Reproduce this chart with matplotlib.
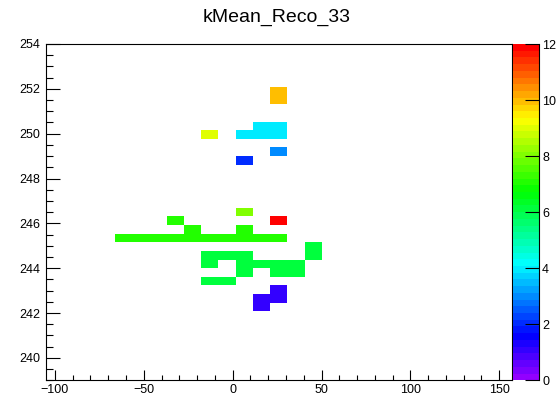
import colorsys
import numpy as np
import matplotlib
matplotlib.use("Agg")
import matplotlib.pyplot as plt
from matplotlib.colors import ListedColormap, Normalize
from matplotlib.ticker import MultipleLocator

plt.rcParams["font.family"] = ["Liberation Sans", "DejaVu Sans"]

title = "kMean_Reco_33"

# histogram binning
x_lo, x_hi, n_x = -105.0, 157.0, 27
y_lo, y_hi, n_y = 239.0, 254.0, 39
z_min, z_max = 0, 12

# filled bins: column index, row index, bin content
cell_ix = [13, 13,
           12, 13,
           9, 11, 12, 13,
           13,
           11,
           11,
           7, 13,
           8, 11,
           4, 5, 6, 7, 8, 9, 10, 11, 12, 13,
           15,
           9, 10, 11, 15,
           9, 11, 12, 13, 14,
           11, 13, 14,
           9, 10,
           13,
           12, 13,
           12]
cell_iy = [33, 32,
           29, 29,
           28, 28, 28, 28,
           26,
           25,
           19,
           18, 18,
           17, 17,
           16, 16, 16, 16, 16, 16, 16, 16, 16, 16,
           15,
           14, 14, 14, 14,
           13, 13, 13, 13, 13,
           12, 12, 12,
           11, 11,
           10,
           9, 9,
           8]
cell_val = [10, 10,
            4, 4,
            9, 4, 4, 4,
            3,
            2,
            8,
            7, 12,
            7, 7,
            7, 7, 7, 7, 7, 7, 7, 7, 7, 7,
            6,
            6, 6, 6, 6,
            6, 6, 6, 6, 6,
            6, 6, 6,
            6, 6,
            1,
            1, 1,
            1]

# violet -> red "pretty" palette, 50 steps in HLS
n_col = 50
pal = []
for i in range(n_col):
    hue = 280.0 - (i + 1) * (280.0 / n_col)
    pal.append(colorsys.hls_to_rgb(hue / 360.0, 0.5, 1.0))
cmap = ListedColormap(pal)

x_edges = np.linspace(x_lo, x_hi, n_x + 1)
y_edges = np.linspace(y_lo, y_hi, n_y + 1)
grid = np.zeros((n_y, n_x))
for ix, iy, v in zip(cell_ix, cell_iy, cell_val):
    grid[iy, ix] = v
grid = np.ma.masked_equal(grid, 0)

W, H = 558, 399
fig = plt.figure(figsize=(W / 100, H / 100), dpi=100)
px = lambda v: v / W
py = lambda v: v / H

ax_l, ax_r, ax_t, ax_b = 46.0, 511.7, 44.0, 380.3
ax = fig.add_axes([px(ax_l), py(H - ax_b), px(ax_r - ax_l), py(ax_b - ax_t)])
norm = Normalize(vmin=z_min, vmax=z_max)
mesh = ax.pcolormesh(x_edges, y_edges, grid, cmap=cmap, norm=norm,
                     edgecolors="none", antialiased=False)
ax.set_xlim(x_lo, x_hi)
ax.set_ylim(y_lo, y_hi)

ax.xaxis.set_major_locator(MultipleLocator(50))
ax.xaxis.set_minor_locator(MultipleLocator(10))
ax.yaxis.set_major_locator(MultipleLocator(2))
ax.yaxis.set_minor_locator(MultipleLocator(0.5))

lw = 0.8
for s in ax.spines.values():
    s.set_linewidth(lw)
ax.tick_params(axis="x", which="major", direction="in", length=7.2, width=lw,
               labelsize=9, pad=2.5, top=False)
ax.tick_params(axis="x", which="minor", direction="in", length=3.6, width=lw, top=False)
ax.tick_params(axis="y", which="major", direction="in", length=10.0, width=lw,
               labelsize=9, pad=4.3, right=False)
ax.tick_params(axis="y", which="minor", direction="in", length=5.0, width=lw, right=False)

# colour palette on the right
cb_l, cb_r = 513.3, 539.3
cax = fig.add_axes([px(cb_l), py(H - ax_b), px(cb_r - cb_l), py(ax_b - ax_t)])
cbar = fig.colorbar(mesh, cax=cax, ticks=np.arange(z_min, z_max + 1, 2))
cbar.outline.set_visible(False)
cax.plot([1, 1], [0, 1], transform=cax.transAxes, color="black", lw=lw, clip_on=False)
cax.tick_params(axis="y", which="major", direction="in", length=10.0, width=lw,
                labelsize=9, pad=2.0, right=True, left=False)
cax.minorticks_off()

fig.text(px(277), 1 - py(17), title, ha="center", va="center", fontsize=14)

fig.savefig("out.png", dpi=100)
